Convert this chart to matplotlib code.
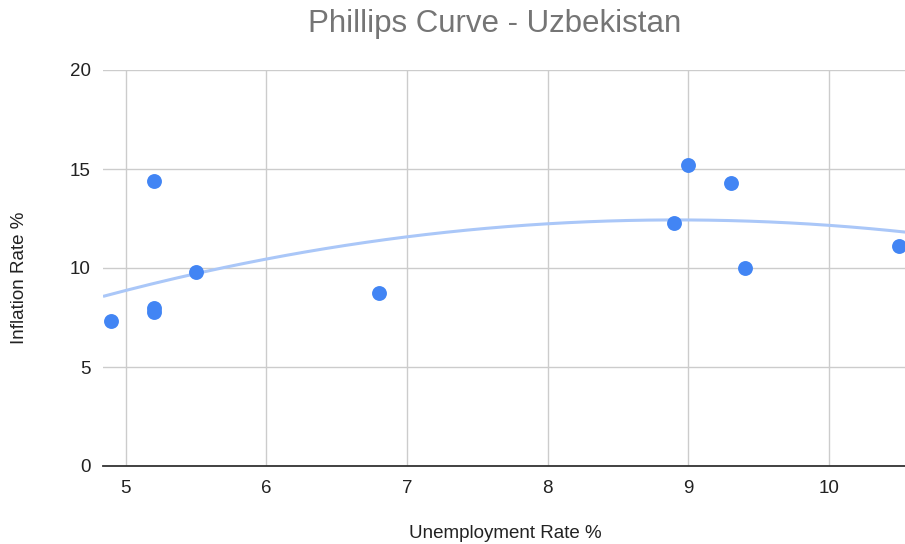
import matplotlib

matplotlib.use("Agg")
import matplotlib.pyplot as plt
import numpy as np

plt.rcParams["font.family"] = ["Liberation Sans", "DejaVu Sans"]

# Unemployment vs inflation, Uzbekistan
unemployment = [4.9, 5.2, 5.2, 5.2, 5.5, 6.8, 8.9, 9.0, 9.3, 9.4, 10.5]
inflation = [7.3, 14.4, 8.0, 7.8, 9.8, 8.75, 12.25, 15.2, 14.3, 10.0, 11.1]

x_ticks = [5, 6, 7, 8, 9, 10]
y_ticks = [0, 5, 10, 15, 20]

_BLUE = "#4285f4"
_TREND = "#aac7f8"
_GRID = "#cccccc"
_TEXT = "#222222"

W, H = 905, 544
fig = plt.figure(figsize=(W / 100, H / 100), dpi=100)
ax = fig.add_axes([103 / W, 1 - 466 / H, 802 / W, 396 / H])

x = np.array(unemployment)
y = np.array(inflation)

# degree-2 polynomial trendline
coef = np.polyfit(x, y, 2)
xs = np.linspace(4.84, 10.55, 200)
ax.plot(xs, np.polyval(coef, xs), color=_TREND, lw=2.2, zorder=3, solid_capstyle="butt")

ax.scatter(x, y, s=115, color=_BLUE, linewidths=0, zorder=4, clip_on=False)

ax.set_xlim(4.84, 10.54)
ax.set_ylim(0, 20)
ax.set_xticks(x_ticks)
ax.set_yticks(y_ticks)
ax.grid(True, color=_GRID, lw=1)
ax.set_axisbelow(True)
for side in ["top", "right", "left"]:
    ax.spines[side].set_visible(False)
ax.spines["bottom"].set_color("#333333")
ax.spines["bottom"].set_linewidth(1.3)
ax.tick_params(axis="both", length=0, labelsize=13.5, colors=_TEXT)
ax.tick_params(axis="x", pad=10)
ax.tick_params(axis="y", pad=9)

fig.text(505 / W, 1 - 534 / H, "Unemployment Rate %", ha="center", va="center",
         fontsize=13.5, color=_TEXT)
fig.text(20 / W, 1 - 278 / H, "Inflation Rate %", ha="center", va="center",
         rotation=90, fontsize=13.5, color=_TEXT)
fig.text(495 / W, 1 - 24 / H, "Phillips Curve - Uzbekistan", ha="center", va="center",
         fontsize=22.5, color="#757575")

fig.savefig("out.png", dpi=100)
